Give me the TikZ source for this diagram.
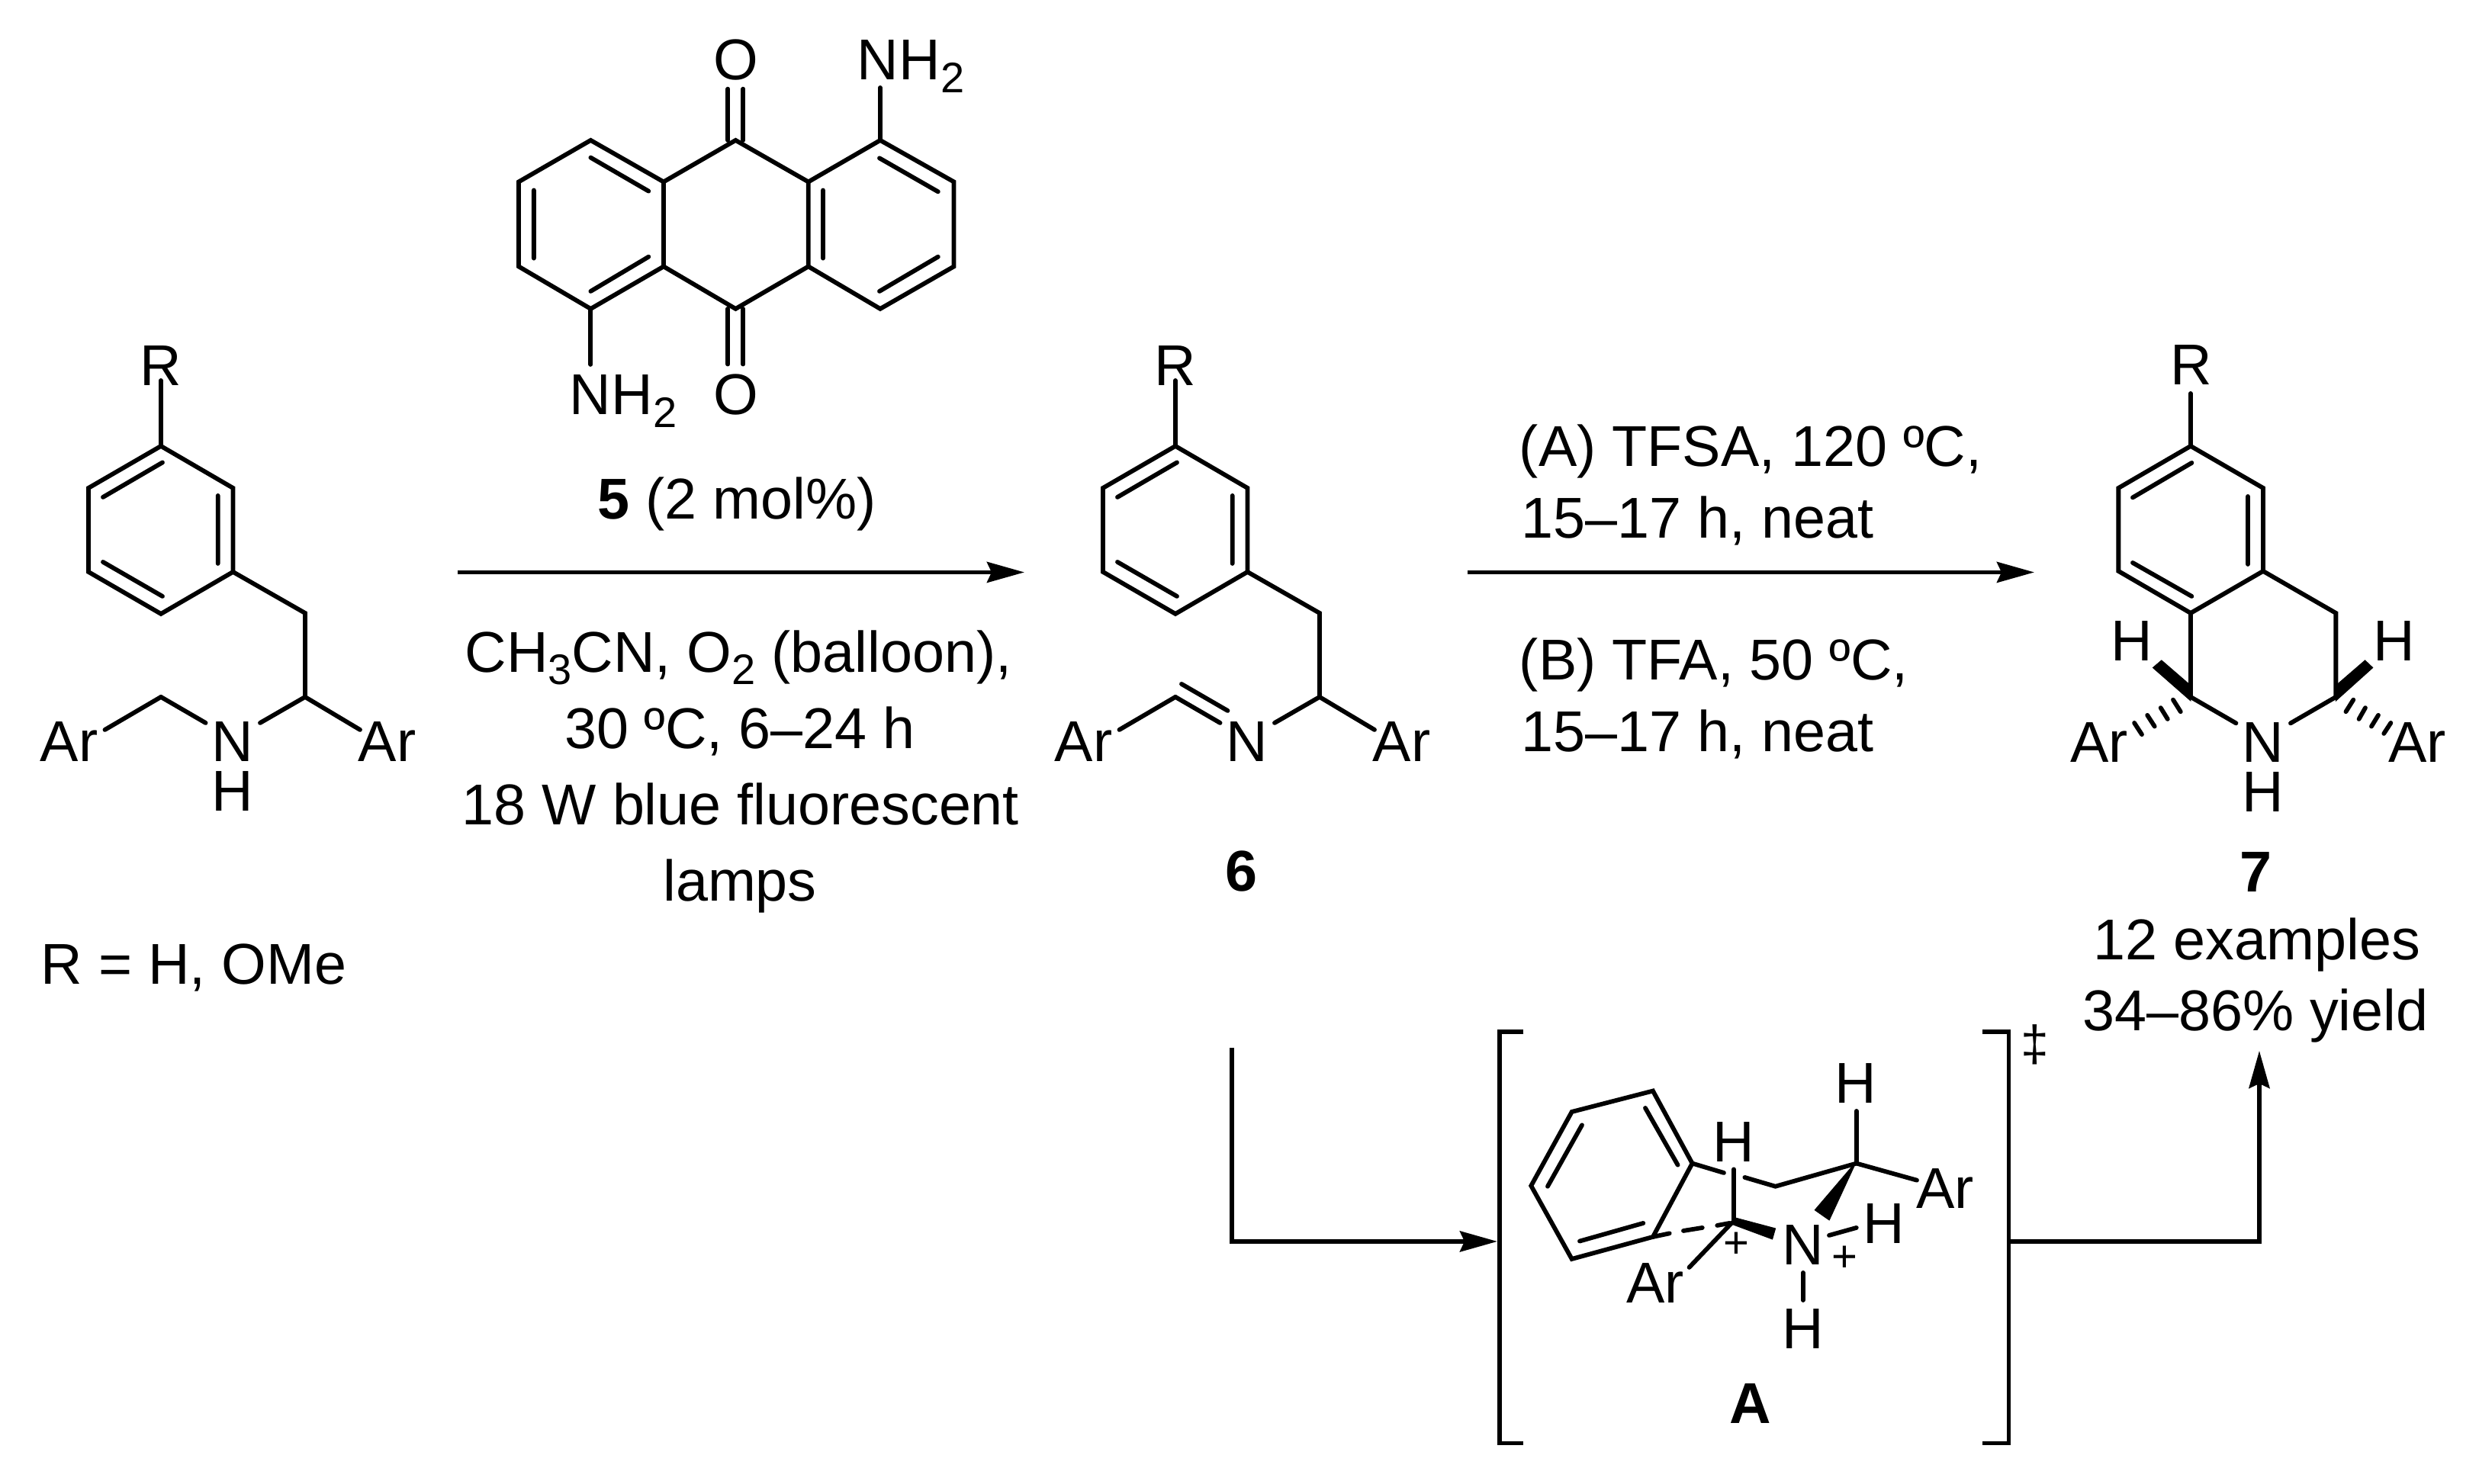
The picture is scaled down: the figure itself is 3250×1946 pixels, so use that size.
\documentclass[tikz,border=0pt]{standalone}
\usepackage{fontspec}
\setmainfont{Liberation Sans}
\usetikzlibrary{arrows.meta}
\newcommand{\lowidx}[1]{\raisebox{-1.65pt}{\fontsize{5.6}{6}\selectfont #1}}
\tikzset{
  bond/.style={line width=0.58pt,line cap=round,line join=miter,black},
  rxn/.style={line width=0.55pt,line cap=butt,line join=miter,black,-{Stealth[length=4.9pt,width=2.7pt,inset=0.6pt]}},
  bracketline/.style={line width=0.58pt,line cap=butt,line join=miter,black},
  atom/.style={inner sep=0pt,anchor=base,font=\fontsize{7.55}{9}\selectfont},
  lab/.style={inner sep=0pt,anchor=base,font=\fontsize{7.55}{9}\selectfont},
  labl/.style={inner sep=0pt,anchor=base west,font=\fontsize{7.55}{9}\selectfont},
  blab/.style={inner sep=0pt,anchor=base,font=\fontsize{7.55}{9}\selectfont\bfseries},
  chg/.style={inner sep=0pt,anchor=center,font=\fontsize{5.8}{6}\selectfont},
  wedge/.style={fill=black,draw=black,line width=0.1pt},
}
\newcommand{\phenethyl}{%
  \coordinate (r1) at (211,585);\coordinate (r2) at (116,640);\coordinate (r3) at (116,750);
  \coordinate (r4) at (211,805);\coordinate (r5) at (305.5,750);\coordinate (r6) at (305.5,640);
  \coordinate (c1) at (400,804);\coordinate (c2) at (400,914);\coordinate (c3) at (211,914);
  \node[atom] (R) at (211,506) {R};
  \draw[bond] (r1)--(r2)--(r3)--(r4)--(r5)--(r6)--cycle;
  \draw[bond] (135,652)--(213,606.5) (285.7,650)--(285.7,739) (135,737)--(213,782);
  \draw[bond] (R.south)++(0,-9) coordinate (rb) (rb)--(r1);
  \draw[bond] (r5)--(c1)--(c2);
  \node[atom] (N) at (304.6,999) {N};
  \node[atom] (ArL) at (90.5,999) {Ar};
  \node[atom] (ArR) at (507.5,999) {Ar};
  \coordinate (nl) at (269.6,948);\coordinate (nr) at (341,948);
  \coordinate (al) at (137.5,957);\coordinate (ar) at (472,957);
  \draw[bond] (al)--(c3) (nr)--(c2)--(ar);
}
\begin{document}
\begin{tikzpicture}[x=0.1pt,y=-0.1pt]
\useasboundingbox (0,0) rectangle (3250,1946);
% substrate
\begin{scope}[name prefix=m1-]
  \phenethyl
  \node[atom] (H) at (304.6,1064) {H};
  \draw[bond] (c3)--(nl);
\end{scope}
\node[labl] (rdef) at (52,1291) {R = H, OMe};
% product 6
\begin{scope}[shift={(1330,0)},name prefix=m6-]
  \phenethyl
  \coordinate (d1) at (219,897);\coordinate (d2) at (279.5,932);
  \draw[bond] (c3)--(nl) (d1)--(d2);
\end{scope}
\node[blab] (lab6) at (1627,1169) {6};
% catalyst 5
\begin{scope}[name prefix=c-]
  \coordinate (a1) at (774.4,184);\coordinate (a2) at (680,238.5);\coordinate (a3) at (680,349.5);
  \coordinate (a4) at (774.4,405);\coordinate (a5) at (870,349.5);\coordinate (a6) at (870,238.5);
  \coordinate (b1) at (964.4,184);\coordinate (b2) at (964.4,405);
  \coordinate (e1) at (1059.8,238.5);\coordinate (e2) at (1059.8,349.5);
  \coordinate (f1) at (1154,184);\coordinate (f2) at (1250.6,238.5);\coordinate (f3) at (1250.6,349.5);\coordinate (f4) at (1154,405);
  \draw[bond] (a1)--(a2)--(a3)--(a4)--(a5)--(a6)--cycle;
  \draw[bond] (a6)--(b1)--(e1)--(e2)--(b2)--(a5);
  \draw[bond] (e1)--(f1)--(f2)--(f3)--(f4)--(e2);
  \draw[bond] (774.4,206.7)--(850.3,250.7) (699.9,249.5)--(699.9,338.7) (774.4,382)--(850.3,336.8);
  \draw[bond] (1153,207.4)--(1229.8,251.4) (1079,249.5)--(1079,338.7) (1153,382)--(1229.8,336.8);
  \draw[bond] (954.4,116.7)--(954.4,184) (974.4,116.7)--(974.4,184);
  \draw[bond] (954.4,405)--(954.4,477.6) (974.4,405)--(974.4,477.6);
  \node[atom] (O1) at (964.4,105) {O};
  \node[atom] (O2) at (964.4,544) {O};
  \node[labl] (N1) at (1122,105) {NH\lowidx{2}};
  \node[labl] (N2) at (745,544) {NH\lowidx{2}};
  \coordinate (n1e) at (1154,115);\coordinate (n2e) at (774.4,478);
  \draw[bond] (n1e)--(f1) (n2e)--(a4);
\end{scope}
% reaction 1
\coordinate (arr1s) at (600,750.5);\coordinate (arr1e) at (1343,750.5);
\draw[rxn] (arr1s)--(arr1e);
\node[lab] (t5) at (966,681) {\textbf{5} (2 mol\%)};
\node[lab] (t1) at (968,881.5) {CH\lowidx{3}CN, O\lowidx{2} (balloon),};
\node[lab] (t2) at (970,981.5) {30 ºC, 6–24 h};
\node[lab] (t3) at (971,1082) {18 W blue fluorescent};
\node[lab] (t4) at (970,1182) {lamps};
% reaction 2
\coordinate (arr2s) at (1924,750.5);\coordinate (arr2e) at (2667,750.5);
\draw[rxn] (arr2s)--(arr2e);
\node[labl] (u1) at (1990,612) {(A) TFSA, 120 ºC,};
\node[labl] (u2) at (1993,706) {15–17 h, neat};
\node[labl] (u3) at (1990,892) {(B) TFA, 50 ºC,};
\node[labl] (u4) at (1993,986) {15–17 h, neat};
% product 7
\begin{scope}[name prefix=p-]
  \coordinate (r1) at (2872,585);\coordinate (r2) at (2777.4,640);\coordinate (r3) at (2777.4,749);
  \coordinate (r4) at (2872,804);\coordinate (r5) at (2967,749);\coordinate (r6) at (2967,640);
  \coordinate (c1) at (3062.4,804);\coordinate (c2) at (3062.4,914);\coordinate (c3) at (2872,914);
  \node[atom] (R) at (2872.6,505) {R};
  \node[atom] (N) at (2966.4,1000) {N};
  \node[atom] (NH) at (2966.4,1065) {H};
  \node[atom] (HL) at (2794.5,867) {H};
  \node[atom] (HR) at (3138.7,867) {H};
  \node[atom] (ArL) at (2752,1000) {Ar};
  \node[atom] (ArR) at (3169,1000) {Ar};
  \coordinate (rb) at (2872,516);\coordinate (nl) at (2931.5,948.4);\coordinate (nr) at (3003,948.4);
  \draw[bond] (rb)--(r1);
  \draw[bond] (r1)--(r2)--(r3)--(r4)--(r5)--(r6)--cycle;
  \draw[bond] (2796,652.5)--(2873.4,607) (2947,651)--(2947,740) (2796,738)--(2873.4,782);
  \draw[bond] (r5)--(c1)--(c2) (r4)--(c3);
  \draw[bond] (c3)--(nl) (c2)--(nr);
  \filldraw[wedge] (2872,919)--(2822.5,875.6)--(2833.8,866)--(2872,899)--cycle;
  \filldraw[wedge] (3062.4,919)--(3110.7,875.6)--(3100.6,866)--(3062.4,899)--cycle;
  \draw[bond] (2849,917.7)--(2858.8,933.3) (2832.7,928.2)--(2841.8,943) (2815.2,937.9)--(2824.7,952.6) (2798.1,948)--(2808,963.2);
  \draw[bond] (3085.3,917.7)--(3075.5,933.3) (3101,928.2)--(3092.6,943) (3118,937.9)--(3109,952.6) (3134.4,948)--(3125.3,962);
\end{scope}
\node[blab] (lab7) at (2957,1169.5) {7};
\node[lab] (y1) at (2959,1258.5) {12 examples};
\node[lab] (y2) at (2957,1352) {34–86\% yield};
% transition state A
\coordinate (brLtt) at (1997.5,1353);\coordinate (brLt) at (1966,1353);\coordinate (brLb) at (1966,1892.5);\coordinate (brLbb) at (1997.5,1892.5);
\coordinate (brRtt) at (2599,1353);\coordinate (brRt) at (2633.5,1353);\coordinate (brRb) at (2633.5,1892.5);\coordinate (brRbb) at (2599,1892.5);
\draw[bracketline] (brLtt)--(brLt)--(brLb)--(brLbb);
\draw[bracketline] (brRtt)--(brRt)--(brRb)--(brRbb);
\node[chg] (dag) at (2667.4,1370) {\fontsize{6.6}{7}\selectfont ‡};
\begin{scope}[name prefix=a-]
  \coordinate (b1) at (2167,1430.6);\coordinate (b2) at (2060.7,1458);\coordinate (b3) at (2007.3,1555);
  \coordinate (b4) at (2060.7,1651);\coordinate (b5) at (2167,1622);\coordinate (b6) at (2218.6,1525.6);
  \coordinate (ch2) at (2327.6,1555.8);\coordinate (c3) at (2433.8,1525.6);\coordinate (cp) at (2273,1600);
  \draw[bond] (b1)--(b2)--(b3)--(b4)--(b5)--(b6)--cycle;
  \draw[bond] (2157,1453)--(2199.6,1527.7) (2074,1475.4)--(2029,1555.8) (2071,1627.6)--(2154.3,1604);
  \draw[bond] (b6)--(2260,1538) (2287.4,1544)--(ch2)--(c3)--(2513,1547.7);
  \draw[bond] (c3)--(2433.8,1457);
  \draw[bond] (2273,1533.4)--(cp);
  \draw[bond] (2270,1604)--(2214.6,1662);
  \draw[bond] (b5)--(2188.7,1617.4) (2207,1614)--(2231.8,1610) (2251.3,1607)--(2267.4,1604);
  \filldraw[wedge] (2433.8,1523)--(2379.3,1586.8)--(2398.2,1600)--cycle;
  \filldraw[wedge] (2267,1604)--(2275,1597)--(2327.6,1611)--(2323.6,1625)--cycle;
  \node[atom] (H1) at (2432.7,1447) {H};
  \node[atom] (H2) at (2273,1523.5) {H};
  \node[atom] (Ar1) at (2550,1585) {Ar};
  \node[atom] (Ar2) at (2170,1709) {Ar};
  \node[atom] (N) at (2363.8,1659) {N};
  \node[atom] (H3) at (2469.4,1630.5) {H};
  \node[atom] (H4) at (2363.8,1768.5) {H};
  \node[chg] (p1) at (2276,1633.3) {+};
  \node[chg] (p2) at (2418.3,1651) {+};
  \draw[bond] (2398,1620)--(2433.8,1610);
  \draw[bond] (2363.8,1669)--(2363.8,1705);
\end{scope}
\node[blab] (labA) at (2295,1867) {A};
% connectors through the transition state
\coordinate (d6) at (1615,1374);\coordinate (d6b) at (1615,1628);\coordinate (dL) at (1963,1628);
\draw[rxn] (d6)--(d6b)--(dL);
\coordinate (dR) at (2634,1628);\coordinate (dRb) at (2962,1628);\coordinate (dT) at (2962,1378);
\draw[rxn] (dR)--(dRb)--(dT);
\end{tikzpicture}
\end{document}
